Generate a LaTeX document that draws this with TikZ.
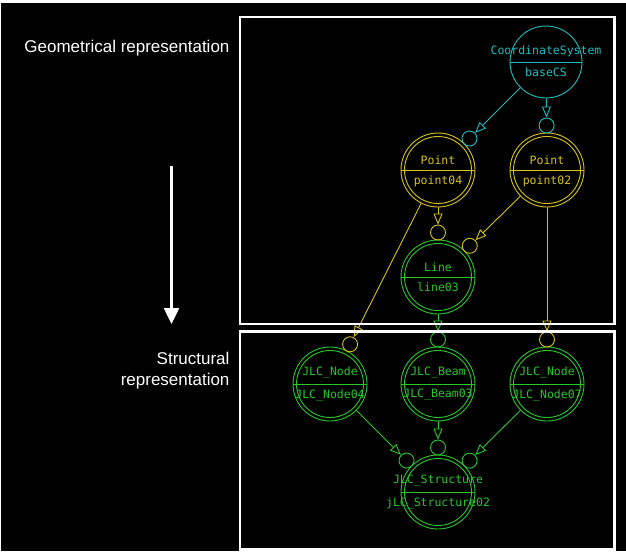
\documentclass[tikz,border=0pt]{standalone}
\usepackage{fontspec}
\setmainfont{Liberation Sans}
\newfontfamily\objfont{DejaVu Sans Mono}
\usetikzlibrary{shapes.multipart}
\usetikzlibrary{arrows.meta}
\usetikzlibrary{calc}
\pgfdeclarelayer{bglayer}
\pgfdeclarelayer{edgelayer}
\pgfdeclarelayer{nodelayer}
\pgfsetlayers{bglayer,edgelayer,nodelayer,main}
\definecolor{cyanobj}{RGB}{30,190,195}
\definecolor{yellowobj}{RGB}{215,195,30}
\definecolor{greenobj}{RGB}{40,200,40}
\tikzstyle{object}=[circle split,draw,line width=0.9pt,minimum size=74pt,inner xsep=3.5pt,inner ysep=5pt,font=\objfont\fontsize{11.5}{14}\selectfont]
\tikzstyle{double object}=[object,path picture={\draw [line width=0.9pt] (path picture bounding box.center) circle (33.5pt);}]
\tikzstyle{port}=[circle,draw,line width=0.9pt,minimum size=15pt,inner sep=0pt]
\tikzstyle{link}=[-{Triangle[open,length=11pt,width=9pt]},line width=0.9pt]
\tikzstyle{frame}=[draw=white,line width=2.5pt]
\tikzstyle{caption}=[anchor=east,align=right,text=white,font=\fontsize{17}{21}\selectfont]
\newcommand{\objtext}[2]{\makebox[0pt]{#1}\nodepart{lower}\makebox[0pt]{#2}}

\begin{document}
\begin{tikzpicture}[x=1pt,y=-1pt]
	\begin{pgfonlayer}{bglayer}
		\fill [white] (0,0) rectangle (626,555);
		\fill [black] (1,3) rectangle (626,551);
	\end{pgfonlayer}
	\begin{pgfonlayer}{nodelayer}
		\node [style=object, color=cyanobj, minimum size=72pt] (0) at (546, 62) {\objtext{CoordinateSystem}{baseCS}};
		\node [style=double object, color=yellowobj] (1) at (438, 170) {\objtext{Point}{point04}};
		\node [style=double object, color=yellowobj] (2) at (547, 170) {\objtext{Point}{point02}};
		\node [style=double object, color=greenobj] (3) at (438, 277) {\objtext{Line}{line03}};
		\node [style=double object, color=greenobj] (4) at (330, 384) {\objtext{JLC\_Node}{JLC\_Node04}};
		\node [style=double object, color=greenobj] (5) at (438, 384) {\objtext{JLC\_Beam}{JLC\_Beam03}};
		\node [style=double object, color=greenobj] (6) at (547, 384) {\objtext{JLC\_Node}{JLC\_Node07}};
		\node [style=double object, color=greenobj] (7) at (438, 492) {\objtext{JLC\_Structure}{jLC\_Structure02}};
		\node [style=port, color=cyanobj] (10) at ($(1)!44.5pt!(0)$) {};
		\node [style=port, color=cyanobj] (11) at ($(2)!44.5pt!(0)$) {};
		\node [style=port, color=yellowobj] (12) at ($(3)!44.5pt!(1)$) {};
		\node [style=port, color=yellowobj] (13) at ($(3)!44.5pt!(2)$) {};
		\node [style=port, color=yellowobj] (14) at ($(4)!44.5pt!(1)$) {};
		\node [style=port, color=greenobj] (15) at ($(5)!44.5pt!(3)$) {};
		\node [style=port, color=yellowobj] (16) at ($(6)!44.5pt!(2)$) {};
		\node [style=port, color=greenobj] (17) at ($(7)!44.5pt!(4)$) {};
		\node [style=port, color=greenobj] (18) at ($(7)!44.5pt!(5)$) {};
		\node [style=port, color=greenobj] (19) at ($(7)!44.5pt!(6)$) {};
	\end{pgfonlayer}
	\begin{pgfonlayer}{edgelayer}
		\draw [style=link, cyanobj] (0) to (10);
		\draw [style=link, cyanobj] (0) to (11);
		\draw [style=link, yellowobj] (1) to (12);
		\draw [style=link, yellowobj] (2) to (13);
		\draw [style=link, yellowobj] (1) to (14);
		\draw [style=link, greenobj] (3) to (15);
		\draw [style=link, yellowobj] (2) to (16);
		\draw [style=link, greenobj] (4) to (17);
		\draw [style=link, greenobj] (5) to (18);
		\draw [style=link, greenobj] (6) to (19);
	\end{pgfonlayer}
	% captions and the flow arrow
	\node [style=caption] (20) at (233, 48) {Geometrical representation};
	\node [style=caption] (21) at (233, 371) {Structural\\representation};
	\coordinate (22) at (171.5, 166);
	\coordinate (23) at (171.5, 324);
	\draw [white, line width=2.5pt, -{Triangle[length=16pt,width=15pt]}] (22) to (23);
	% the two frames
	\draw [style=frame] (240, 17) rectangle (614.5, 324);
	\draw [style=frame] (240, 331.7) rectangle (614.5, 549.5);
\end{tikzpicture}
\end{document}
